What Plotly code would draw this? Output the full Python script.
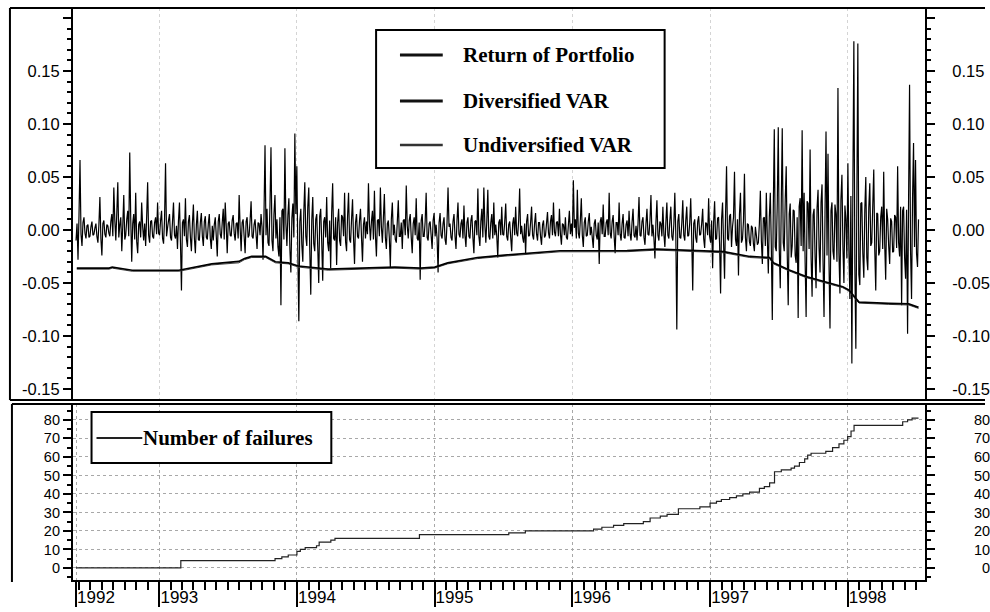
import numpy as np
import pandas as pd
import plotly.graph_objects as go

# ---------------------------------------------------------------------------
# Data
# ---------------------------------------------------------------------------
# Daily portfolio return (in percent), sampled evenly from 1992-05-25 to 1998-07-08
ret_1992_93 = [
    -1.0, 0.6, -2.8, 1.4, 6.6, -0.4, -1.5, 0.7, 1.2, -0.3, -0.8, 0.4, 0.5, -0.7, -0.6, 0.3,
    0.8, -0.5, -0.4, 0.2, 0.6, -0.6, -1.2, 0.5, 3.1, -0.8, -2.4, 0.6, 0.9, -0.4, -0.7, 0.5,
    0.4, -0.3, -0.6, 0.8, 1.5, -0.6, 4.0, 0.9, -1.0, 1.6, 4.5, -0.7, 0.5, 1.2, -2.0, 0.4,
    3.3, -0.9, -0.5, 1.0, 1.8, -0.6, 7.3, 1.1, -3.0, 0.6, 1.5, -0.9, 3.5, -1.1, -2.2, 0.5,
    0.8, -0.7, 2.6, 0.3, -1.0, 0.6, -1.5, 1.2, 4.5, -0.5, -1.2, 0.8, 0.9, -0.6, -0.8, 0.7,
    1.2, -0.4, 2.6, -0.3, -0.5, 0.9, 1.8, -0.8, -1.3, 1.0, 6.3, -0.6, 0.2, 0.9, 1.5, -0.7,
    -1.0, 0.8, 2.6, -0.5, -0.8, 0.4, -1.8, 0.9, 2.6, -1.2, -5.7, 0.7, 1.0, -0.6, 3.0, -0.9,
    -1.6, 0.8, 1.4, -0.7, -2.0, 0.6, 2.4, -0.8, -2.2, 0.5, 1.8, -0.9, -1.0, 0.7, 1.6, -0.6,
    -1.5, 0.8, 1.3, -0.7, -0.9, 0.6, 1.5, -0.8, -1.8, 0.4,
]
ret_1993_94 = [
    -1.0, 0.5, 1.2, -0.6, -2.5, 0.8, 1.5, -0.4, -0.8, 0.7, 2.0, -0.9, 2.6, 0.4, -2.2, 0.6,
    0.8, -0.5, -0.6, 0.9, 1.4, -0.3, -1.0, 0.6, 0.7, -0.8, 3.3, 0.2, -2.0, 0.7, 1.0, -0.6,
    -2.2, 0.8, 1.2, -0.7, -0.5, 0.9, 2.7, -0.6, -0.8, 0.5, 1.0, -0.4, -1.8, 0.7, 0.6, -0.5,
    1.5, 0.3, -2.8, 1.6, 8.0, -0.5, 2.0, -1.2, -1.5, 2.4, 7.8, -1.0, -2.0, 1.5, 3.3, -0.8,
    1.0, -1.6, -2.5, 1.2, -7.1, 1.8, 2.0, -0.9, 7.7, 0.6, -1.5, 1.4, 3.0, -1.8, -4.0, 1.1,
    2.5, -0.7, 9.1, 1.5, 6.0, -2.2, -8.6, 0.8, 2.0, -1.4, -3.0, 1.7, 4.5, -0.6, -1.5, 2.2,
    4.0, -1.9, -6.1, 0.9, 3.1, -1.3, -2.0, 1.0, 1.5, -1.6, -5.0, 1.3, 2.0, -1.1, -4.8, 0.8,
    1.2, -0.7, 3.1, -1.2, -2.0, 0.9, -3.6, 1.6, 4.4, -0.8, -1.0, 1.2, -3.3, 0.7, 2.0, -1.0,
    -1.5, 1.4, 1.2, -0.6, 3.5, -1.1, -2.0, 1.3, 3.5, -0.9, -1.2, 1.0, 2.9, -0.8,
]
ret_1994_95 = [
    -3.2, 0.7, 1.5, -0.6, -0.8, 0.9, 2.0, -0.7, -3.0, 0.5, 1.2, -0.8, 0.8, -0.4, 4.4, 0.6,
    -1.0, 0.8, 1.8, -0.9, 3.7, -0.5, -2.5, 0.9, 1.0, -0.6, 4.0, 0.3, -1.2, 1.1, 3.4, -0.7,
    -1.8, 0.6, 0.9, -0.8, -3.5, 1.0, 2.6, -0.5, 0.5, -0.9, -1.2, 0.8, 2.8, -0.6, -0.6, 0.7,
    -1.8, 0.9, 1.0, -0.5, 4.2, 0.4, -0.8, 0.9, 1.5, -0.7, -2.2, 0.6, 1.2, -0.5, 3.0, -0.8,
    -1.0, 0.7, -4.7, 0.9, 1.5, -0.6, -0.6, 0.8, 3.5, -0.7, -1.0, 0.6, 0.8, -0.5, -1.8, 0.9,
    1.6, -0.6, 0.5, -0.8, -4.0, 0.7, 1.6, -0.5, -0.8, 0.6, 1.2, -0.9, -1.4, 0.7, 4.0, 0.3,
    0.6, -0.7, -1.0, 0.8, 1.5, -0.6, -1.8, 0.9, 2.6, -0.4, -0.7, 0.6, 1.0, -0.8, 2.3, -0.5,
    -1.6, 0.7, 1.2, -0.6, -0.8, 0.9, 1.4, -0.7, -2.2, 0.8, 0.9, -0.5, 3.9, -0.6, -1.5, 0.8,
    2.0, -0.7, 4.0, 0.5, -1.2, 0.9, 3.8, -0.6, -0.9, 0.7, 1.5, -0.8, 2.6, -0.5,
]
ret_1995_96 = [
    0.5, -0.6, -2.6, 0.7, 1.0, -0.5, 2.2, -0.4, -0.5, 0.8, 2.5, -0.6, -1.0, 0.5, 0.8, -0.7,
    -2.0, 0.6, 1.2, -0.5, 2.2, -0.3, -0.6, 0.9, 3.9, -0.4, 0.4, -0.7, -1.2, 0.6, -2.3, 0.8,
    1.5, -0.6, -0.5, 0.7, 2.2, -0.5, -0.9, 0.6, 1.6, -0.4, -1.0, 0.7, 0.7, -0.6, -1.4, 0.5,
    0.9, -0.7, -0.5, 0.6, 1.7, -0.3, -0.8, 0.8, 1.4, -0.5, 2.6, -0.2, -0.6, 0.7, 0.8, -0.6,
    2.0, -0.4, -1.4, 0.6, 0.5, -0.5, 1.2, -0.7, -0.9, 0.5, 1.8, -0.4, 0.6, -0.6, 4.7, 0.2,
    1.0, -0.8, 3.8, -0.3, -0.8, 0.9, 3.0, -0.5, -1.6, 0.7, 1.2, -0.6, -0.5, 0.8, 1.6, -0.5,
    0.3, -0.7, -1.7, 0.6, 1.0, -0.5, -0.9, 0.7, -3.2, 0.8, 1.2, -0.4, 2.4, -0.6, -0.6, 0.7,
    1.0, -0.5, 3.5, -0.3, -0.8, 0.8, 1.4, -0.6, -2.2, 0.7, 0.7, -0.5, 2.6, -0.4, -1.0, 0.6,
    1.5, -0.7, -0.8, 0.5, 0.9, -0.6, 1.8, -0.4, -1.0, 0.7, 2.0, -0.5, -0.7, 0.4,
]
ret_1996_97 = [
    -1.0, 0.6, 3.1, -0.5, -0.6, 0.8, 1.2, -0.7, -1.4, 0.6, 2.0, -0.4, -0.5, 0.9, 3.3, -0.6,
    0.5, -0.8, -2.7, 0.7, 2.8, -0.5, -1.0, 0.8, 0.6, -0.6, 2.2, -0.4, -1.6, 0.7, 2.6, -0.5,
    -0.8, 0.9, 2.2, -0.6, -1.0, 0.5, 3.5, -0.4, -9.4, 0.8, 1.5, -0.7, -0.8, 0.6, 2.8, -0.5,
    -1.0, 0.9, 2.2, -0.6, -0.5, 0.7, 3.0, -0.8, -5.7, 0.6, 1.0, -0.7, -1.2, 0.8, 1.3, -0.5,
    -0.4, 0.6, 2.0, -0.8, -1.7, 0.7, 0.6, -0.5, 3.0, -0.6, -1.2, 0.9, -3.6, 0.7, 2.7, -0.9,
    -0.8, 1.1, 1.2, -1.3, -6.0, 1.0, 2.6, -1.2, -4.6, 1.4, 6.0, -0.8, -1.0, 1.3, 1.5, -1.6,
    0.3, 1.2, 5.5, -0.9, -1.5, 1.0, -4.3, 1.5, 3.5, -1.2, -0.9, 0.8, 5.3, -0.7, -2.0, 0.6,
    0.5, -1.1, -1.5, 0.4, 0.2, -1.3, -2.0, 0.3, -0.5, -1.4, -1.2, 0.6, 3.7, -1.0, -3.2, 1.1,
    1.2, -1.5, 3.5, -0.8, -4.1, 1.2, 3.5, -1.4, -8.5, 2.0, 9.5, -1.6, -2.0, 2.5,
]
ret_1997_98 = [
    9.7, -1.8, -5.5, 2.4, 9.6, -1.2, -2.0, 2.8, 6.0, -2.2, -7.1, 1.5, 2.5, -2.6, -1.5, 1.9,
    1.8, -2.4, -3.1, 1.2, -8.3, 2.2, 3.0, -1.5, 9.4, -2.0, 3.5, -3.0, -8.2, 2.7, 2.5, -1.8,
    7.6, -2.6, -6.3, 1.4, 2.0, -2.5, -5.5, 2.1, 3.8, -1.7, -4.0, 2.6, 4.3, -2.9, -8.2, 1.6,
    9.3, -2.4, 7.2, -3.1, -9.3, 1.8, 2.6, -2.0, -2.8, 2.4, 1.5, -3.0, 13.4, -2.2, -6.0, 2.9,
    5.2, -1.6, -5.0, 2.3, 1.0, -2.7, 6.3, -1.9, -6.5, 3.2, -12.6, 4.1, 17.8, -3.5, -11.2, 2.8,
    17.6, -4.2, -5.2, 2.5, 2.6, -2.2, -4.5, 1.9, 5.0, -2.6, -3.8, 2.1, 4.4, -1.5, -1.2, 2.3,
    5.7, -1.8, -5.7, 1.6, 1.5, -2.4, -2.0, 1.2, 2.2, -1.8, 5.5, -1.3, -4.7, 2.0, 1.0, -1.5,
    -3.2, 1.1, 0.8, -2.1, -2.0, 1.4, 1.2, -1.7, 6.0, -1.2, -2.5, 2.2, -7.1, 1.8, 2.2, -2.6,
    -4.6, 1.9, -9.8, 2.7, 13.7, -2.0, -6.5, 3.0, 8.2, -1.6, 6.6, -2.2, -3.5, 1.0,
]
ret_pct = ret_1992_93 + ret_1993_94 + ret_1994_95 + ret_1995_96 + ret_1996_97 + ret_1997_98
ret_start, ret_end = "1992-05-25", "1998-07-08"

# Value-at-risk estimates (negative returns)
var_dates = [
    "1992-05-27", "1992-08-21", "1992-08-29", "1992-10-21", "1993-02-22", "1993-05-20",
    "1993-07-31", "1993-08-15", "1993-09-03", "1993-10-10", "1993-11-05", "1993-12-09",
    "1994-01-05", "1994-02-27", "1994-03-25", "1994-06-20", "1994-09-18", "1994-11-25",
    "1995-01-02", "1995-02-05", "1995-03-30", "1995-04-25", "1995-07-13", "1995-09-04",
    "1995-11-30", "1996-02-28", "1996-05-26", "1996-08-13", "1996-11-08", "1997-02-06",
    "1997-04-16", "1997-06-08", "1997-06-18", "1997-07-30", "1997-09-13", "1997-10-28",
    "1997-12-19", "1998-01-04", "1998-01-23", "1998-01-31", "1998-04-20", "1998-06-12",
    "1998-07-08",
]
var_diversified = [
    -0.036, -0.036, -0.035, -0.038, -0.038, -0.032, -0.0297, -0.027, -0.025, -0.025,
    -0.030, -0.031, -0.034, -0.036, -0.037, -0.036, -0.035, -0.036, -0.035, -0.031,
    -0.028, -0.026, -0.0235, -0.022, -0.0196, -0.0196, -0.0195, -0.018, -0.019, -0.0205,
    -0.025, -0.026, -0.031, -0.0377, -0.044, -0.0487, -0.0535, -0.0566, -0.0645, -0.068,
    -0.0692, -0.0698, -0.073,
]
var_undiversified = [
    -0.037, -0.037, -0.036, -0.039, -0.039, -0.033, -0.031, -0.028, -0.026, -0.026,
    -0.031, -0.032, -0.035, -0.037, -0.038, -0.037, -0.036, -0.037, -0.036, -0.032,
    -0.029, -0.027, -0.0245, -0.023, -0.0206, -0.0206, -0.0205, -0.019, -0.020, -0.0215,
    -0.026, -0.027, -0.032, -0.0387, -0.045, -0.0497, -0.0545, -0.0576, -0.0655, -0.069,
    -0.0702, -0.0708, -0.074,
]

# Cumulative number of VAR exceedances (step changes)
fail_dates = [
    "1992-05-25", "1993-02-27", "1993-11-04", "1993-11-22", "1993-12-09", "1994-01-01",
    "1994-01-10", "1994-01-23", "1994-02-22", "1994-03-01", "1994-04-01", "1994-04-12",
    "1994-11-22", "1995-07-17", "1995-08-30", "1996-02-27", "1996-03-20", "1996-04-20",
    "1996-05-17", "1996-07-08", "1996-07-26", "1996-08-22", "1996-09-09", "1996-10-09",
    "1996-12-05", "1997-01-01", "1997-01-18", "1997-01-31", "1997-02-22", "1997-03-12",
    "1997-03-29", "1997-04-16", "1997-05-12", "1997-05-25", "1997-06-08", "1997-06-21",
    "1997-07-09", "1997-08-04", "1997-08-13", "1997-08-26", "1997-09-09", "1997-09-17",
    "1997-09-26", "1997-11-04", "1997-11-22", "1997-12-09", "1997-12-22", "1998-01-01",
    "1998-01-10", "1998-01-18", "1998-05-27", "1998-06-09", "1998-06-21", "1998-07-08",
]
fail_counts = [
    0, 4, 5, 6, 7, 9, 10, 11, 12, 14, 15, 16, 18, 19, 20, 21, 22, 23, 24, 25, 27, 28,
    29, 32, 33, 35, 36, 37, 38, 39, 40, 41, 43, 44, 46, 52, 53, 54, 55, 57, 59, 61,
    62, 63, 65, 67, 69, 71, 74, 77, 79, 80, 81, 81,
]

# Axis labels
year_tick_dates = ["1992-05-25", "1993-01-01", "1994-01-01", "1995-01-01",
                   "1996-01-01", "1997-01-01", "1998-01-01"]
year_tick_text = ["1992", "1993", "1994", "1995", "1996", "1997", "1998"]
ret_tick_vals = [-0.15, -0.10, -0.05, 0.0, 0.05, 0.10, 0.15, 0.20]
ret_tick_text = ["-0.15", "-0.10", "-0.05", "0.00", "0.05", "0.10", "0.15", ""]
fail_tick_vals = [0, 10, 20, 30, 40, 50, 60, 70, 80]
fail_tick_text = ["0", "10", "20", "30", "40", "50", "60", "70", "80"]

# ---------------------------------------------------------------------------
# Figure
# ---------------------------------------------------------------------------
W, H = 990, 612


def fx(px):
    return px / W


def fy(py):
    return 1 - py / H


ret_dates = pd.date_range(ret_start, ret_end, periods=len(ret_pct))
returns = np.array(ret_pct) / 100.0

SANS = "Liberation Sans, Arial, sans-serif"
SERIF = "Liberation Serif, Times New Roman, serif"

fig = go.Figure()
fig.add_trace(go.Scatter(x=ret_dates, y=returns, mode="lines", name="Return of Portfolio",
                         line=dict(color="#000000", width=1.2, simplify=False),
                         xaxis="x", yaxis="y", showlegend=False))
fig.add_trace(go.Scatter(x=pd.to_datetime(var_dates), y=var_undiversified, mode="lines",
                         name="Undiversified VAR", line=dict(color="#444444", width=1),
                         xaxis="x", yaxis="y", showlegend=False))
fig.add_trace(go.Scatter(x=pd.to_datetime(var_dates), y=var_diversified, mode="lines",
                         name="Diversified VAR", line=dict(color="#000000", width=1.7),
                         xaxis="x", yaxis="y", showlegend=False))
fig.add_trace(go.Scatter(x=pd.to_datetime(fail_dates), y=fail_counts, mode="lines",
                         name="Number of failures",
                         line=dict(color="#222222", width=1.2, shape="hv"),
                         xaxis="x2", yaxis="y2", showlegend=False))
# empty traces so the right-hand value axes get drawn
fig.add_trace(go.Scatter(x=[], y=[], xaxis="x", yaxis="y3", showlegend=False, hoverinfo="skip"))
fig.add_trace(go.Scatter(x=[], y=[], xaxis="x2", yaxis="y4", showlegend=False, hoverinfo="skip"))

x_dom = [fx(73), fx(930)]
x_rng = ["1992-05-16", "1998-07-26"]
top_dom = [fy(400), fy(8)]
bot_dom = [fy(580), fy(404)]
top_rng = [-0.1604, 0.2094]
bot_rng = [-6.5, 88.6]

tick_common = dict(ticks="outside", ticklen=8, tickwidth=1.5, tickcolor="black",
                   showline=True, linecolor="black", linewidth=1.5, zeroline=False)

fig.update_layout(
    width=W, height=H,
    margin=dict(l=0, r=0, t=0, b=0),
    paper_bgcolor="white", plot_bgcolor="white",
    showlegend=False,
    xaxis=dict(domain=x_dom, range=x_rng, type="date", anchor="y",
               tickvals=year_tick_dates[1:], showticklabels=False, ticks="",
               showline=False, zeroline=False,
               showgrid=True, gridcolor="#d4d4d4", gridwidth=1, griddash="dot"),
    yaxis=dict(domain=top_dom, range=top_rng, anchor="x", side="left",
               tickvals=ret_tick_vals, ticktext=ret_tick_text,
               minor=dict(dtick=0.01, tick0=0, ticks="outside", ticklen=4, tickcolor="black"),
               showgrid=False, **tick_common,
               tickfont=dict(family=SANS, size=16.5, color="black")),
    yaxis3=dict(range=top_rng, overlaying="y", anchor="x", side="right",
                tickvals=ret_tick_vals, ticktext=ret_tick_text,
                minor=dict(dtick=0.01, tick0=0, ticks="outside", ticklen=4, tickcolor="black"),
                showgrid=False, ticklabelstandoff=14, **tick_common,
                tickfont=dict(family=SANS, size=16.5, color="black")),
    xaxis2=dict(domain=x_dom, range=x_rng, type="date", anchor="y2",
                tickvals=year_tick_dates, ticktext=year_tick_text,
                ticks="outside", ticklen=25, tickwidth=1.5, tickcolor="black",
                minor=dict(dtick="M1", tick0="1992-01-01", ticks="outside", ticklen=8,
                           tickcolor="black", tickwidth=1.5),
                showline=True, linecolor="black", linewidth=1.5, zeroline=False,
                ticklabelshift=20, ticklabelstandoff=-24,
                tickfont=dict(family=SANS, size=17, color="black"),
                showgrid=True, gridcolor="#a8a8a8", gridwidth=1, griddash="dot"),
    yaxis2=dict(domain=bot_dom, range=bot_rng, anchor="x2", side="left",
                tickvals=fail_tick_vals, ticktext=fail_tick_text,
                minor=dict(dtick=5, tick0=0, ticks="outside", ticklen=4, tickcolor="black"),
                **tick_common,
                tickfont=dict(family=SANS, size=14.5, color="black"),
                showgrid=True, gridcolor="#a8a8a8", gridwidth=1, griddash="dot"),
    yaxis4=dict(range=bot_rng, overlaying="y2", anchor="x2", side="right",
                tickvals=fail_tick_vals,
                ticktext=["\u2007" + t if len(t) == 1 else t for t in fail_tick_text],
                minor=dict(dtick=5, tick0=0, ticks="outside", ticklen=4, tickcolor="black"),
                showgrid=False, ticklabelstandoff=36, **tick_common,
                tickfont=dict(family=SANS, size=14.5, color="black")),
)

# Panel frames
frame = dict(type="line", xref="paper", yref="paper", line=dict(color="black", width=2))
shapes = [
    dict(frame, x0=fx(10), x1=fx(990), y0=fy(8), y1=fy(8)),
    dict(frame, x0=fx(10), x1=fx(10), y0=fy(8), y1=fy(400)),
    dict(frame, x0=fx(10), x1=fx(990), y0=fy(400), y1=fy(400)),
    dict(frame, x0=fx(12), x1=fx(990), y0=fy(404), y1=fy(404)),
    dict(frame, x0=fx(12), x1=fx(12), y0=fy(404), y1=fy(582)),
]

# Legend boxes, sample lines and labels
box = dict(type="rect", xref="paper", yref="paper", line=dict(color="black", width=2),
           fillcolor="white", layer="above")
shapes.append(dict(box, x0=fx(378), x1=fx(668), y0=fy(168), y1=fy(30)))
shapes.append(dict(box, x0=fx(92), x1=fx(333), y0=fy(463), y1=fy(412)))

legend_rows = [("Return of Portfolio", 55, "#111111", 3),
               ("Diversified VAR", 101, "#111111", 3),
               ("Undiversified VAR", 145, "#333333", 2.5)]
annotations = []
for label, ypx, col, lw in legend_rows:
    shapes.append(dict(type="line", xref="paper", yref="paper", x0=fx(402), x1=fx(445),
                       y0=fy(ypx), y1=fy(ypx), line=dict(color=col, width=lw), layer="above"))
    annotations.append(dict(text=label, xref="paper", yref="paper", x=fx(463), y=fy(ypx),
                            xanchor="left", yanchor="middle", showarrow=False,
                            font=dict(family=SERIF, size=21, color="black", weight="bold")))

shapes.append(dict(type="line", xref="paper", yref="paper", x0=fx(97), x1=fx(143),
                   y0=fy(438), y1=fy(438), line=dict(color="#222222", width=2), layer="above"))
annotations.append(dict(text="Number of failures", xref="paper", yref="paper", x=fx(142),
                        y=fy(438), xanchor="left", yanchor="middle", showarrow=False,
                        font=dict(family=SERIF, size=21, color="black", weight="bold")))

fig.update_layout(shapes=shapes, annotations=annotations)

fig.write_html("out.html")
